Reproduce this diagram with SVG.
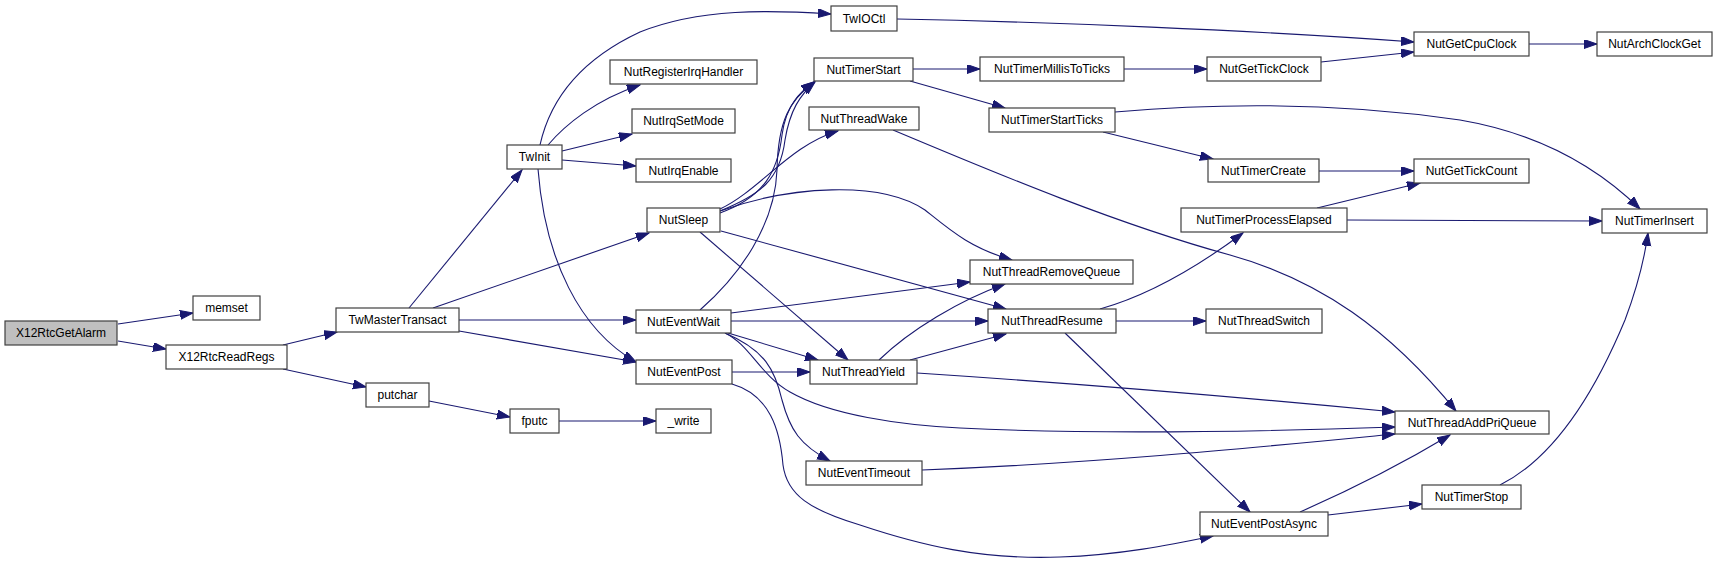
<svg xmlns="http://www.w3.org/2000/svg" width="1717" height="563" viewBox="0 0 1717 563">
<style>
.n rect{fill:#ffffff;stroke:#404040;stroke-width:1.2}
.n text{font-family:"Liberation Sans",Arial,sans-serif;font-size:12px;fill:#000;text-anchor:middle}
.e path{fill:none;stroke:#191970;stroke-width:1.1;marker-end:url(#ah)}
</style>
<defs>
<marker id="ah" markerUnits="userSpaceOnUse" markerWidth="14" markerHeight="10" refX="13" refY="4.5" orient="auto">
<path d="M0,0 L13,4.5 L0,9 Z" fill="#191970" stroke="#191970" stroke-width="1"/>
</marker>
</defs>
<rect width="1717" height="563" fill="#ffffff"/>
<g id="edges" class="e">
<path d="M118,324 L193,313"/>
<path d="M118,341 L166,349"/>
<path d="M283,345 L337,332"/>
<path d="M283,369 L366,387"/>
<path d="M429,401 L510,417"/>
<path d="M559,421 L656,421"/>
<path d="M409,308 L522,170"/>
<path d="M433,308 L649,233"/>
<path d="M459,320 L636,320"/>
<path d="M459,331 L636,362"/>
<path d="M540,145 C550,100 580,60 640,32 C700,8 770,10 831,14"/>
<path d="M548,145 C565,125 595,100 640,85"/>
<path d="M562,151 L632,134"/>
<path d="M562,160 L636,166"/>
<path d="M538,169 C545,260 580,330 636,362"/>
<path d="M897,19 C1050,22 1250,30 1414,42"/>
<path d="M720,211 C760,195 780,180 785,140 C790,110 800,95 815,82"/>
<path d="M720,213 C765,197 778,170 782,135 C786,105 800,92 814,82"/>
<path d="M700,310 C740,275 775,225 777,170 C778,120 790,100 814,82"/>
<path d="M720,209 C760,190 790,145 838,131"/>
<path d="M720,211 C790,186 880,180 925,210 C950,230 970,248 1012,260"/>
<path d="M721,231 L1006,309"/>
<path d="M700,232 L848,360"/>
<path d="M731,313 L970,282"/>
<path d="M731,321 L988,321"/>
<path d="M728,333 L818,360"/>
<path d="M725,333 C750,345 760,375 790,392 C830,415 900,425 960,428 C1100,435 1250,432 1395,427"/>
<path d="M725,333 C765,350 775,370 782,400 C790,430 800,445 830,461"/>
<path d="M732,372 L810,372"/>
<path d="M732,384 C770,395 780,430 783,465 C787,495 810,510 860,525 C920,545 980,560 1060,557 C1120,555 1170,545 1213,536"/>
<path d="M913,69 L980,69"/>
<path d="M910,81 L1005,108"/>
<path d="M1124,69 L1207,69"/>
<path d="M1321,62 L1414,52"/>
<path d="M1529,44 L1597,44"/>
<path d="M1115,112 C1230,102 1350,104 1460,120 C1530,132 1590,160 1640,209"/>
<path d="M1103,132 L1213,159"/>
<path d="M1319,171 L1414,171"/>
<path d="M1317,208 L1420,183"/>
<path d="M1347,220 L1602,221"/>
<path d="M893,130 C1000,175 1120,225 1230,255 C1320,280 1390,330 1456,411"/>
<path d="M879,360 C910,330 960,300 1005,284"/>
<path d="M910,360 L1006,334"/>
<path d="M917,373 C1100,385 1250,398 1395,412"/>
<path d="M1100,309 C1150,295 1200,265 1243,233"/>
<path d="M1116,321 L1206,321"/>
<path d="M1065,333 L1250,512"/>
<path d="M922,470 C1100,463 1250,448 1395,434"/>
<path d="M1300,512 C1350,490 1400,465 1450,435"/>
<path d="M1328,515 L1422,504"/>
<path d="M1500,485 C1560,455 1600,380 1625,320 C1640,280 1645,255 1648,233"/>
</g>
<g id="X12RtcGetAlarm" class="n"><rect x="5" y="321" width="112" height="24" style="fill:#bfbfbf"/><text x="61" y="337">X12RtcGetAlarm</text></g>
<g id="memset" class="n"><rect x="193" y="296" width="67" height="24"/><text x="226.5" y="312">memset</text></g>
<g id="X12RtcReadRegs" class="n"><rect x="166" y="345" width="121" height="24"/><text x="226.5" y="361">X12RtcReadRegs</text></g>
<g id="TwMasterTransact" class="n"><rect x="336" y="308" width="123" height="24"/><text x="397.5" y="324">TwMasterTransact</text></g>
<g id="putchar" class="n"><rect x="366" y="383" width="63" height="24"/><text x="397.5" y="399">putchar</text></g>
<g id="fputc" class="n"><rect x="510" y="409" width="49" height="24"/><text x="534.5" y="425">fputc</text></g>
<g id="_write" class="n"><rect x="656" y="409" width="55" height="24"/><text x="683.5" y="425">_write</text></g>
<g id="TwInit" class="n"><rect x="507" y="145" width="55" height="24"/><text x="534.5" y="161">TwInit</text></g>
<g id="TwIOCtl" class="n"><rect x="831" y="6" width="66" height="25"/><text x="864" y="22.5">TwIOCtl</text></g>
<g id="NutRegisterIrqHandler" class="n"><rect x="610" y="60" width="147" height="24"/><text x="683.5" y="76">NutRegisterIrqHandler</text></g>
<g id="NutIrqSetMode" class="n"><rect x="632" y="109" width="103" height="24"/><text x="683.5" y="125">NutIrqSetMode</text></g>
<g id="NutIrqEnable" class="n"><rect x="636" y="159" width="95" height="23"/><text x="683.5" y="174.5">NutIrqEnable</text></g>
<g id="NutSleep" class="n"><rect x="647" y="208" width="73" height="24"/><text x="683.5" y="224">NutSleep</text></g>
<g id="NutEventWait" class="n"><rect x="636" y="310" width="95" height="23"/><text x="683.5" y="325.5">NutEventWait</text></g>
<g id="NutEventPost" class="n"><rect x="636" y="360" width="96" height="24"/><text x="684" y="376">NutEventPost</text></g>
<g id="NutTimerStart" class="n"><rect x="814" y="58" width="99" height="23"/><text x="863.5" y="73.5">NutTimerStart</text></g>
<g id="NutThreadWake" class="n"><rect x="809" y="107" width="110" height="23"/><text x="864" y="122.5">NutThreadWake</text></g>
<g id="NutThreadYield" class="n"><rect x="810" y="360" width="107" height="24"/><text x="863.5" y="376">NutThreadYield</text></g>
<g id="NutEventTimeout" class="n"><rect x="806" y="461" width="116" height="24"/><text x="864" y="477">NutEventTimeout</text></g>
<g id="NutTimerMillisToTicks" class="n"><rect x="980" y="57" width="144" height="24"/><text x="1052" y="73">NutTimerMillisToTicks</text></g>
<g id="NutTimerStartTicks" class="n"><rect x="989" y="108" width="126" height="24"/><text x="1052" y="124">NutTimerStartTicks</text></g>
<g id="NutThreadRemoveQueue" class="n"><rect x="970" y="260" width="163" height="24"/><text x="1051.5" y="276">NutThreadRemoveQueue</text></g>
<g id="NutThreadResume" class="n"><rect x="988" y="309" width="128" height="24"/><text x="1052" y="325">NutThreadResume</text></g>
<g id="NutGetTickClock" class="n"><rect x="1207" y="57" width="114" height="24"/><text x="1264" y="73">NutGetTickClock</text></g>
<g id="NutTimerCreate" class="n"><rect x="1208" y="159" width="111" height="23"/><text x="1263.5" y="174.5">NutTimerCreate</text></g>
<g id="NutTimerProcessElapsed" class="n"><rect x="1181" y="208" width="166" height="24"/><text x="1264" y="224">NutTimerProcessElapsed</text></g>
<g id="NutThreadSwitch" class="n"><rect x="1206" y="309" width="116" height="24"/><text x="1264" y="325">NutThreadSwitch</text></g>
<g id="NutEventPostAsync" class="n"><rect x="1200" y="512" width="128" height="24"/><text x="1264" y="528">NutEventPostAsync</text></g>
<g id="NutGetCpuClock" class="n"><rect x="1414" y="32" width="115" height="24"/><text x="1471.5" y="48">NutGetCpuClock</text></g>
<g id="NutGetTickCount" class="n"><rect x="1414" y="159" width="115" height="24"/><text x="1471.5" y="175">NutGetTickCount</text></g>
<g id="NutThreadAddPriQueue" class="n"><rect x="1395" y="411" width="154" height="23"/><text x="1472" y="426.5">NutThreadAddPriQueue</text></g>
<g id="NutTimerStop" class="n"><rect x="1422" y="485" width="99" height="24"/><text x="1471.5" y="501">NutTimerStop</text></g>
<g id="NutArchClockGet" class="n"><rect x="1597" y="32" width="115" height="24"/><text x="1654.5" y="48">NutArchClockGet</text></g>
<g id="NutTimerInsert" class="n"><rect x="1602" y="209" width="105" height="24"/><text x="1654.5" y="225">NutTimerInsert</text></g>
</svg>
